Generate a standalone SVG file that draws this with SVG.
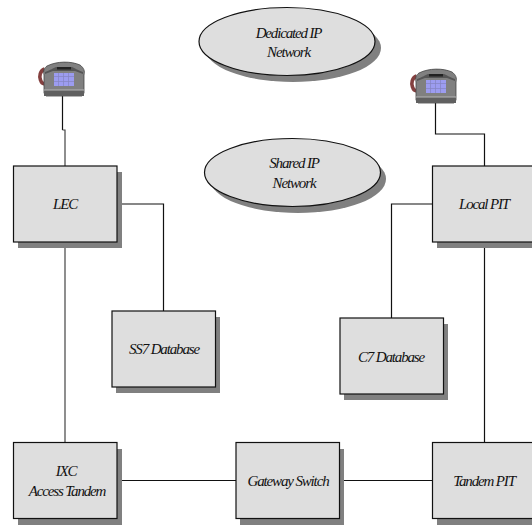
<svg xmlns="http://www.w3.org/2000/svg" width="532" height="527" viewBox="0 0 532 527">
<style>
.box{fill:#dedede;stroke:#111;stroke-width:1.2}
.sh{fill:#808080}
.c{fill:none;stroke:#111;stroke-width:1.2}
.g{stroke:#444}
text{font-family:"Liberation Serif","Times New Roman",serif;font-style:italic;font-size:15px;letter-spacing:-1.15px;fill:#111;text-anchor:middle}
</style>
<defs>
<g id="phone">
<path d="M5.500 7 C1 9 0 14 1.500 18 C2.500 21 3.500 22 5.500 21.500" fill="none" stroke="#84403f" stroke-width="3.600"/>
<path d="M5 31 L5 13 C4 9 5 6 8 4 C18 -1 32 -1 41 3 C45 6 46 9 45 13 L45 31 L43 34 L7 34Z" fill="#808080" stroke="#444" stroke-width="0.8"/>
<path d="M6 10 C12 8 14 6 17 5 L33 5 C36 6 38 8 44 10 L44 12 L36 9 L14 9 L6 12Z" fill="#555"/>
<rect x="18" y="5" width="14" height="2.500" fill="#222"/>
<rect x="5" y="28" width="40" height="6" fill="#606060"/>
<rect x="5" y="27.500" width="40" height="1" fill="#b5b5b5"/>
<rect x="15" y="11" width="20" height="13" fill="#9c9cf0"/>
<path d="M15 14.500H35M15 19.500H35M19.500 11V24M24.500 11V24M29.500 11V24" stroke="#8484c0" stroke-width="0.7"/>
</g>
</defs>
<g id="connectors">
<path class="c" d="M62.500 96V130"/>
<path class="c g" d="M62.500 130H65V166"/>
<path class="c" d="M435.500 102V134H484.500V166"/>
<path class="c" d="M117 204H163.500V311"/>
<path class="c" d="M432 204H391.500V318"/>
<path class="c g" d="M65 242V442.500"/>
<path class="c" d="M484.500 242V442.500"/>
<path class="c" d="M117 480.500H236"/>
<path class="c" d="M340 480.500H432"/>
</g>
<g id="phone-left"><use href="#phone" x="39" y="62"/></g>
<g id="phone-right"><use href="#phone" x="411" y="69"/></g>
<g id="dedicated-ip">
<ellipse class="sh" cx="293" cy="48" rx="88" ry="34"/>
<ellipse class="box" cx="287" cy="41.500" rx="88" ry="34"/>
<text x="288.500" y="38">Dedicated IP</text><text x="288.500" y="57">Network</text>
</g>
<g id="shared-ip">
<ellipse class="sh" cx="298" cy="179" rx="88" ry="34"/>
<ellipse class="box" cx="292.500" cy="172.500" rx="88" ry="34"/>
<text x="294" y="168">Shared IP</text><text x="294" y="188">Network</text>
</g>
<g id="lec"><rect class="sh" x="18" y="172" width="104" height="76"/><rect class="box" x="13.500" y="166" width="103.500" height="76"/><text x="65" y="209">LEC</text></g>
<g id="local-pit"><rect class="sh" x="437" y="172" width="104" height="76"/><rect class="box" x="432.500" y="166" width="103.500" height="76"/><text x="484" y="209">Local PIT</text></g>
<g id="ss7"><rect class="sh" x="116" y="317" width="104" height="76"/><rect class="box" x="112" y="311" width="103.500" height="76"/><text x="164" y="354">SS7 Database</text></g>
<g id="c7"><rect class="sh" x="344" y="324" width="104" height="76"/><rect class="box" x="340" y="318" width="103.500" height="76"/><text x="391" y="362">C7 Database</text></g>
<g id="ixc"><rect class="sh" x="18" y="449" width="104" height="76"/><rect class="box" x="13.500" y="442.500" width="103.500" height="76"/><text x="66" y="476">IXC</text><text x="67" y="496">Access Tandem</text></g>
<g id="gateway"><rect class="sh" x="240" y="449" width="104" height="76"/><rect class="box" x="236" y="442.500" width="103.500" height="76"/><text x="288" y="486">Gateway Switch</text></g>
<g id="tandem-pit"><rect class="sh" x="437" y="449" width="104" height="76"/><rect class="box" x="432.500" y="442.500" width="103.500" height="76"/><text x="484" y="486">Tandem PIT</text></g>
</svg>
